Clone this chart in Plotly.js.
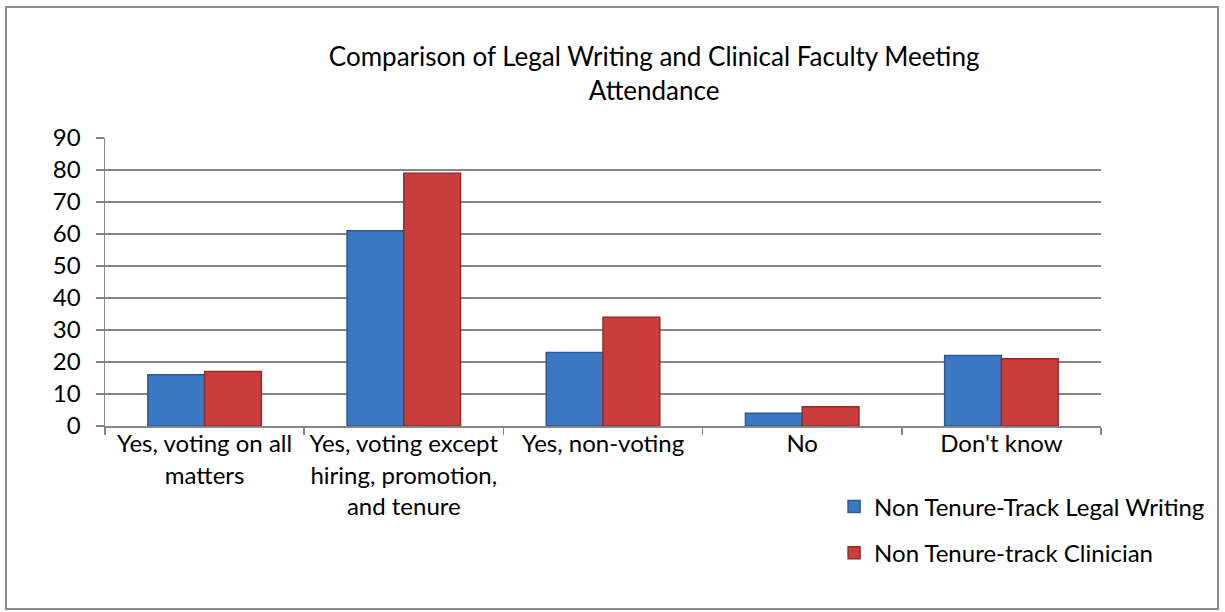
<!DOCTYPE html>
<html>
<head>
<meta charset="utf-8">
<script src="https://cdn.plot.ly/plotly-3.0.1.min.js"></script>
<style>
html,body{margin:0;padding:0;background:#fff;}
#wrap{position:relative;width:1225px;height:612px;}
#chart{width:1225px;height:612px;}
#frame{position:absolute;left:5px;top:6px;width:1210px;height:600px;border:2px solid #8c8c8c;pointer-events:none;}
</style>
</head>
<body>
<div id="wrap"><div id="chart"></div><div id="frame"></div></div>
<script>
const categories = [
  "Yes, voting on all<br>matters",
  "Yes, voting except<br>hiring, promotion,<br>and tenure",
  "Yes, non-voting",
  "No",
  "Don't know"
];
const legalWriting = [16, 61, 23, 4, 22];
const clinician = [17, 79, 34, 6, 21];
const seriesNames = ["Non Tenure-Track Legal Writing", "Non Tenure-track Clinician"];
const yTicks = [0, 10, 20, 30, 40, 50, 60, 70, 80, 90];

const FONT = "Lato, 'Open Sans', 'Liberation Sans', sans-serif";

const traces = [
  {type: "bar", x: categories, y: legalWriting, name: seriesNames[0], legendgroup: "a",
   marker: {color: "#3b78c4", line: {color: "#2a5a99", width: 1.5}}},
  {type: "bar", x: categories, y: clinician, name: seriesNames[1], legendgroup: "b",
   marker: {color: "#c93d3d", line: {color: "#962b2b", width: 1.5}}}
];

const layout = {
  width: 1225, height: 612,
  margin: {l: 105, r: 124, t: 138, b: 186},
  paper_bgcolor: "#fff", plot_bgcolor: "#fff",
  font: {family: FONT, size: 24, color: "#000"},
  title: {text: "Comparison of Legal Writing and Clinical Faculty Meeting<br>Attendance",
          font: {family: FONT, size: 26, color: "#000"},
          x: 0.534, xref: "container", xanchor: "center",
          y: 1 - 66/612, yref: "container", yanchor: "top"},
  barmode: "group", bargap: 0.43, bargroupgap: 0,
  xaxis: {type: "category", showgrid: false, showline: true, linecolor: "#868686", linewidth: 1.5,
          ticks: "outside", tickson: "boundaries", ticklen: 7, tickcolor: "#868686", tickwidth: 1.5,
          ticklabelstandoff: -4,
          tickfont: {family: FONT, size: 24, color: "#000"}, automargin: false},
  yaxis: {range: [0, 90], tickvals: yTicks, showgrid: true, gridcolor: "#868686", gridwidth: 1.5,
          showline: true, linecolor: "#868686", linewidth: 1.5, zeroline: false,
          ticks: "outside", ticklen: 8, tickcolor: "#868686", tickwidth: 1.5,
          ticklabelstandoff: 10,
          tickfont: {family: FONT, size: 24, color: "#000"}, automargin: false},
  showlegend: true,
  legend: {x: 0.732, xanchor: "left", y: -0.203, yanchor: "top", traceorder: "grouped",
           tracegroupgap: 12, font: {family: FONT, size: 24, color: "#000"},
           bgcolor: "rgba(0,0,0,0)", itemwidth: 30}
};

Plotly.newPlot("chart", traces, layout, {displayModeBar: false, staticPlot: true});
</script>
</body>
</html>
